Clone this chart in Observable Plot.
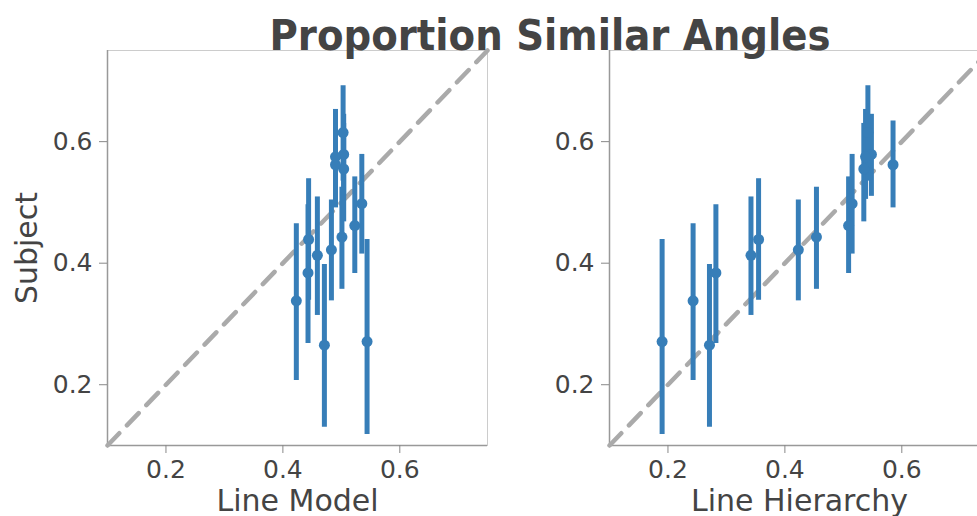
<!DOCTYPE html>
<html>
<head>
<meta charset="utf-8">
<script src="https://cdn.jsdelivr.net/npm/d3@7"></script>
<script src="https://cdn.jsdelivr.net/npm/@observablehq/plot@0.6"></script>
<style>
  html, body { margin: 0; padding: 0; background: #fff; }
  body { width: 977px; height: 516px; overflow: hidden; position: relative; font-family: "DejaVu Sans", sans-serif; }
  #p1 { position: absolute; left: 0; top: 0; width: 500px; }
  #p2 { position: absolute; left: 502px; top: 0; width: 500px; }
  #p1 svg, #p2 svg { max-width: none !important; }
  #title { position: absolute; left: 0; top: 0; pointer-events: none; }
</style>
</head>
<body>
<div id="p1"></div>
<div id="p2"></div>
<svg id="title" width="977" height="80"></svg>
<script>
// ---- data ----
const chartTitle = "Proportion Similar Angles";
const yLabel = "Subject";
const panelLabels = ["Line Model", "Line Hierarchy"];
const subjectMean = [0.271, 0.338, 0.265, 0.384, 0.413, 0.439, 0.422, 0.443, 0.462, 0.498, 0.555, 0.579, 0.562, 0.575, 0.615];
const subjectLow  = [0.118, 0.207, 0.130, 0.268, 0.314, 0.339, 0.338, 0.357, 0.383, 0.415, 0.468, 0.510, 0.491, 0.505, 0.535];
const subjectHigh = [0.439, 0.465, 0.398, 0.496, 0.509, 0.539, 0.504, 0.525, 0.542, 0.579, 0.630, 0.645, 0.634, 0.653, 0.692];
const lineModel     = [0.544, 0.423, 0.471, 0.443, 0.459, 0.444, 0.483, 0.501, 0.523, 0.535, 0.504, 0.504, 0.490, 0.490, 0.503];
const lineHierarchy = [0.190, 0.243, 0.271, 0.282, 0.342, 0.355, 0.423, 0.454, 0.509, 0.515, 0.535, 0.548, 0.585, 0.538, 0.542];
const axisDomain = [0.1, 0.75];
const tickValues = [0.2, 0.4, 0.6];

const blue = "#377eb8";

function panel(xs, xLabel, showYLabel) {
  const rows = xs.map((x, i) => ({x, y: subjectMean[i], lo: subjectLow[i], hi: subjectHigh[i]}));
  const marks = [
    Plot.frame({stroke: "#cccccc", strokeWidth: 1}),
    Plot.ruleX([axisDomain[0]], {stroke: "#999", strokeWidth: 1.5}),
    Plot.ruleY([axisDomain[0]], {stroke: "#999", strokeWidth: 1.5}),
    Plot.axisX({ticks: tickValues, tickFormat: d => d.toFixed(1), tickSize: 8, tickPadding: 7, fontSize: 25, stroke: "#888", fill: "#444", label: null}),
    Plot.axisY({ticks: tickValues, tickFormat: d => d.toFixed(1), tickSize: 8, tickPadding: 7, fontSize: 25, stroke: "#888", fill: "#444", label: null}),
    Plot.line(axisDomain, {x: d => d, y: d => d, stroke: "#aaaaaa", strokeWidth: 4.5, strokeDasharray: "17,11"}),
    Plot.ruleX(rows, {x: "x", y1: "lo", y2: "hi", stroke: blue, strokeWidth: 5}),
    Plot.dot(rows, {x: "x", y: "y", r: 5.5, fill: blue, stroke: null}),
    Plot.text([xLabel], {frameAnchor: "bottom", textAnchor: "middle", lineAnchor: "middle", dy: 56, fontSize: 30, fill: "#444", text: d => d})
  ];
  if (showYLabel) {
    marks.push(Plot.text([yLabel], {frameAnchor: "left", textAnchor: "middle", lineAnchor: "middle", dx: -80, rotate: -90, fontSize: 30, fill: "#444", text: d => d}));
  }
  return Plot.plot({
    width: 500,
    height: 516,
    marginLeft: 107,
    marginRight: 13,
    marginTop: 50,
    marginBottom: 71,
    style: {fontFamily: "DejaVu Sans", background: "transparent", color: "#444", overflow: "visible", maxWidth: "none"},
    x: {domain: axisDomain},
    y: {domain: axisDomain},
    marks
  });
}

document.getElementById("p1").appendChild(panel(lineModel, panelLabels[0], true));
document.getElementById("p2").appendChild(panel(lineHierarchy, panelLabels[1], false));

const t = d3.select("#title");
t.append("text")
  .attr("transform", "translate(550,50) scale(0.9,1)")
  .attr("text-anchor", "middle")
  .attr("font-family", "DejaVu Sans")
  .attr("font-weight", "bold")
  .attr("font-size", 43)
  .attr("fill", "#444")
  .text(chartTitle);
</script>
</body>
</html>
